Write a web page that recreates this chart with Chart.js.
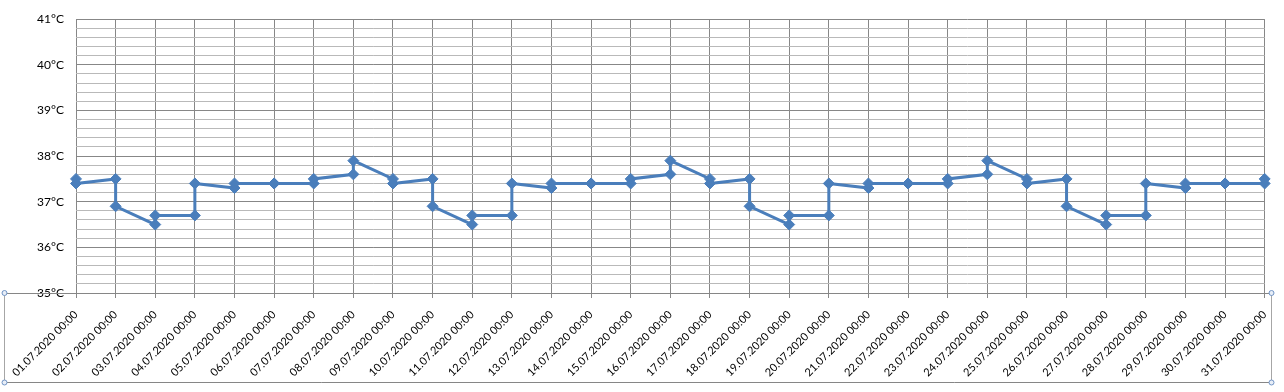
<!DOCTYPE html>
<html>
<head>
<meta charset="utf-8">
<script src="https://cdn.jsdelivr.net/npm/chart.js@4"></script>
<style>
  html, body { margin: 0; padding: 0; background: #fff; }
  #wrap { width: 1284px; height: 392px; }
</style>
</head>
<body>
<div id="wrap"><canvas id="tempChart" width="1284" height="392"></canvas></div>
<script>
const dayLabels = [
  "01.07.2020 00:00", "02.07.2020 00:00", "03.07.2020 00:00", "04.07.2020 00:00",
  "05.07.2020 00:00", "06.07.2020 00:00", "07.07.2020 00:00", "08.07.2020 00:00",
  "09.07.2020 00:00", "10.07.2020 00:00", "11.07.2020 00:00", "12.07.2020 00:00",
  "13.07.2020 00:00", "14.07.2020 00:00", "15.07.2020 00:00", "16.07.2020 00:00",
  "17.07.2020 00:00", "18.07.2020 00:00", "19.07.2020 00:00", "20.07.2020 00:00",
  "21.07.2020 00:00", "22.07.2020 00:00", "23.07.2020 00:00", "24.07.2020 00:00",
  "25.07.2020 00:00", "26.07.2020 00:00", "27.07.2020 00:00", "28.07.2020 00:00",
  "29.07.2020 00:00", "30.07.2020 00:00", "31.07.2020 00:00"
];

// two readings per day, both plotted at the day's position
const firstReading = [
  37.5, 37.5, 36.5, 36.7, 37.3, 37.4, 37.4, 37.6,
  37.5, 37.5, 36.5, 36.7, 37.3, 37.4, 37.4, 37.6,
  37.5, 37.5, 36.5, 36.7, 37.3, 37.4, 37.4, 37.6,
  37.5, 37.5, 36.5, 36.7, 37.3, 37.4, 37.4
];
const secondReading = [
  37.4, 36.9, 36.7, 37.4, 37.4, 37.4, 37.5, 37.9,
  37.4, 36.9, 36.7, 37.4, 37.4, 37.4, 37.5, 37.9,
  37.4, 36.9, 36.7, 37.4, 37.4, 37.4, 37.5, 37.9,
  37.4, 36.9, 36.7, 37.4, 37.4, 37.4, 37.5
];

const yMin = 35;
const yMax = 41;
const yMinorStep = 0.2;

const points = [];
dayLabels.forEach((label, i) => {
  points.push({ x: i, y: firstReading[i] });
  points.push({ x: i, y: secondReading[i] });
});

const isWhole = (v) => Math.abs(v - Math.round(v)) < 1e-6;

// outer frame round the x-axis label area, like a selected axis in Excel
const axisBoxPlugin = {
  id: "axisBox",
  afterDraw(chart) {
    const ctx = chart.ctx;
    const y0 = chart.scales.y.getPixelForValue(yMin);
    const left = 4.5, right = 1271.5, bottom = 382.5;
    ctx.save();
    ctx.lineWidth = 1;
    ctx.strokeStyle = "#a6a6a6";
    ctx.beginPath();
    ctx.moveTo(left, y0);
    ctx.lineTo(left, bottom);
    ctx.moveTo(right, y0);
    ctx.lineTo(right, bottom);
    ctx.stroke();
    ctx.strokeStyle = "#868686";
    ctx.beginPath();
    ctx.moveTo(left, Math.round(y0) + 0.5);
    ctx.lineTo(right, Math.round(y0) + 0.5);
    ctx.moveTo(left, bottom);
    ctx.lineTo(right, bottom);
    ctx.stroke();
    [[left, y0], [left, bottom], [right, y0], [right, bottom]].forEach(([cx, cy]) => {
      ctx.beginPath();
      ctx.arc(cx, cy, 2.5, 0, Math.PI * 2);
      ctx.fillStyle = "#e8eef7";
      ctx.fill();
      ctx.strokeStyle = "#6f93c4";
      ctx.stroke();
    });
    ctx.restore();
  }
};

new Chart(document.getElementById("tempChart"), {
  type: "line",
  data: {
    datasets: [
      {
        label: "Temperature",
        data: points,
        borderColor: "#4a7ebb",
        backgroundColor: "#4a7ebb",
        borderWidth: 3,
        pointStyle: "rectRot",
        pointRadius: 5.5,
        pointHoverRadius: 5.5,
        pointBorderWidth: 1,
        tension: 0,
        clip: false
      }
    ]
  },
  options: {
    responsive: false,
    animation: false,
    layout: { padding: { top: 11, right: 17, left: 0, bottom: 0 } },
    plugins: {
      legend: { display: false },
      tooltip: { enabled: false }
    },
    scales: {
      x: {
        type: "linear",
        min: 0,
        max: dayLabels.length - 1,
        afterFit: (scale) => { scale.height = 99; },
        afterBuildTicks: (scale) => {
          scale.ticks = dayLabels.map((l, i) => ({ value: i }));
        },
        border: { display: false },
        grid: {
          color: "#878787",
          lineWidth: 1,
          tickLength: 5,
          drawTicks: true
        },
        ticks: {
          autoSkip: false,
          minRotation: 45,
          maxRotation: 45,
          padding: 10,
          color: "#000",
          font: { family: "Lato", size: 11 },
          callback: (v) => dayLabels[v]
        }
      },
      y: {
        min: yMin,
        max: yMax,
        afterFit: (scale) => { scale.width = 76; },
        border: { display: false },
        grid: {
          drawTicks: false,
          color: (c) => isWhole(c.tick.value) ? "#878787" : "#b9b9b9",
          lineWidth: 1
        },
        ticks: {
          stepSize: yMinorStep,
          autoSkip: false,
          padding: 12,
          color: "#000",
          font: { family: "Lato", size: 12 },
          callback: (v) => isWhole(v) ? Math.round(v) + "°C" : ""
        }
      }
    }
  },
  plugins: [axisBoxPlugin]
});
</script>
</body>
</html>
